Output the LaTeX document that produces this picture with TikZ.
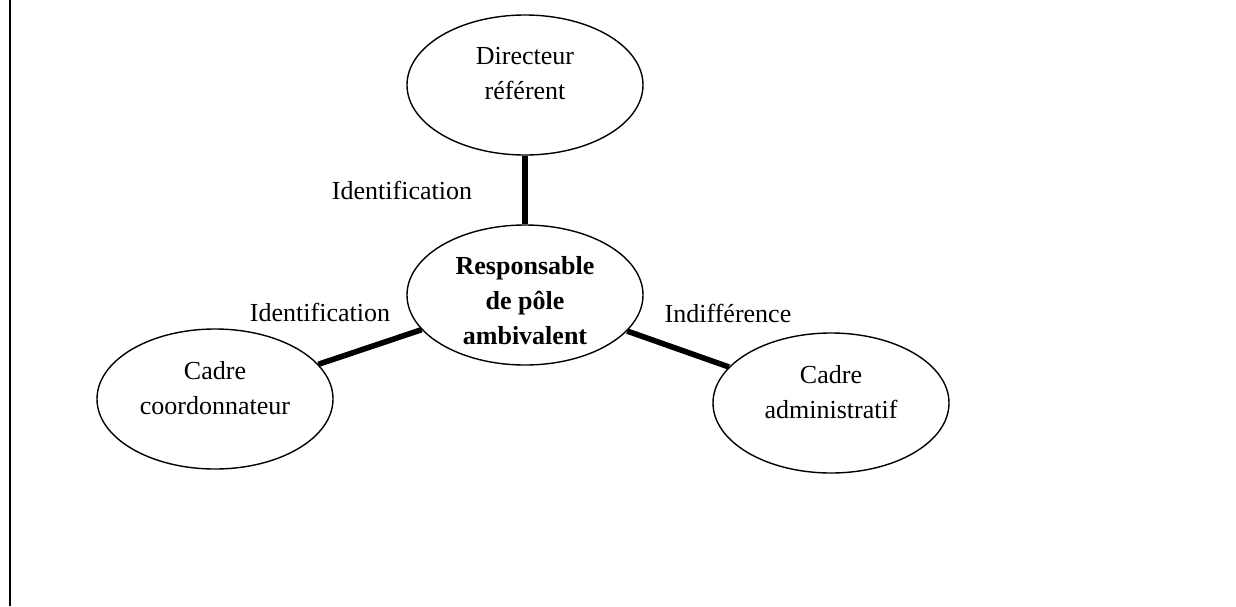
\documentclass[tikz,border=0pt]{standalone}
\usepackage{fontspec}
\setmainfont{Liberation Serif}
\usetikzlibrary{shapes.geometric,
                positioning}

\begin{document}
\begin{tikzpicture}[x=0.5pt, y=-0.5pt,
   ELL/.style = {ellipse, draw, line width=0.7pt,
                 minimum width=118pt, minimum height=70pt,
                 inner sep=0pt},
   TXT/.style = {align=center, inner sep=0pt,
                 font=\fontsize{13}{17.5}\selectfont},
   LBL/.style = {inner sep=0pt, font=\fontsize{13}{16}\selectfont},
   LNK/.style = {line width=2.8pt}
                        ]
\useasboundingbox (0,0) rectangle (1236,606);
% left border of the frame
\draw[line width=0.8pt] (10,0) -- (10,606);
% nodes
\node (resp) [ELL, label={[TXT, font=\fontsize{13}{17.5}\selectfont\bfseries,
              yshift=-3pt]center:{Responsable\\ de pôle\\ ambivalent}}]
      at (525,295) {};
\node (dir)  [ELL, label={[TXT, yshift=5.5pt]center:{Directeur\\ référent}}]
      at (525,85) {};
\node (coord)[ELL, label={[TXT, yshift=5.5pt]center:{Cadre\\ coordonnateur}}]
      at (215,399) {};
\node (adm)  [ELL, label={[TXT, yshift=5.5pt]center:{Cadre\\ administratif}}]
      at (831,403) {};
% links
\draw[LNK] (resp) -- (dir);
\draw[LNK] (resp) -- (coord);
\draw[LNK] (resp) -- (adm);
% labels
\node (l1) [LBL] at (402,190) {Identification};
\node (l2) [LBL] at (320,312) {Identification};
\node (l3) [LBL] at (728,313) {Indifférence};
\end{tikzpicture}
\end{document}
